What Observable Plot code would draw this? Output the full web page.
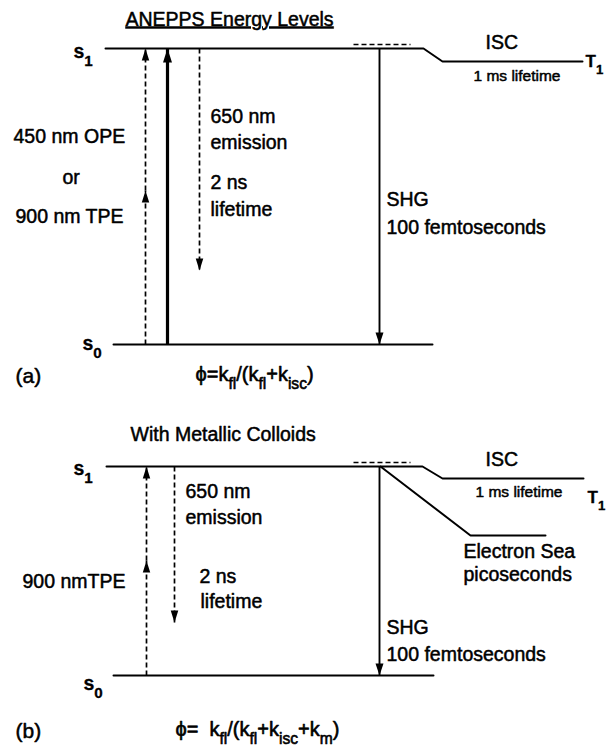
<!DOCTYPE html>
<html><head><meta charset="utf-8">
<script src="https://cdn.jsdelivr.net/npm/d3@7"></script>
<script src="https://cdn.jsdelivr.net/npm/@observablehq/plot@0.6"></script>
<style>
html,body{margin:0;padding:0;background:#fff;}
svg text{font-family:"Liberation Sans",Arial,Helvetica,sans-serif;white-space:pre;}
</style></head><body><div id="chart"></div>
<script>
// ---- Diagram data (diagram units; panel (a) top, panel (b) bottom) ----
// Energy-level polylines: [levelId, x, y]
const levelPoints = [
  ["a-S1",105,48],["a-S1",423,48],["a-S1",442,61],["a-S1",582,61],
  ["a-S0",113,344],["a-S0",432,344],
  ["b-S1",106,466],["b-S1",422,466],["b-S1",442,478],["b-S1",583,478],
  ["b-S0",113,675],["b-S0",433,675],
  ["b-ES",380,466],["b-ES",470,535],["b-ES",545,535]
];
// Virtual state (dashed) above S1: [panel, xStart, xEnd, y]
const virtualStates = [
  ["a",353,410,44],
  ["b",353,410,462]
];
// Transitions: [panel, name, x, yFrom, yTo, kind]
const transitions = [
  ["a","TPE photon 1",145,344,190,"dashed"],
  ["a","TPE photon 2",145,190,48,"dashed"],
  ["a","OPE",167,344,48,"thick"],
  ["a","Fluorescence",199,48,270,"dashed"],
  ["a","SHG",379,48,344,"solid"],
  ["b","TPE photon 1",146,675,560,"dashed"],
  ["b","TPE photon 2",146,560,466,"dashed"],
  ["b","Fluorescence",174,466,622,"dashed"],
  ["b","SHG",379,466,675,"solid"]
];
// Labels: [text, x, baseline, role]
const labels = [
  ["ANEPPS Energy Levels",125,25,"title"],
  ["s_{1}",73,57,"state"],
  ["s_{0}",82,349,"state"],
  ["T_{1}",585,66,"stateT"],
  ["ISC",485,48,"label"],
  ["1 ms lifetime",473,80,"small"],
  ["450 nm OPE",13,142,"label"],
  ["or",62,183,"label"],
  ["900 nm TPE",15,222,"label"],
  ["650 nm",210,122,"label"],
  ["emission",210,148,"label"],
  ["2 ns",210,188,"label"],
  ["lifetime",210,215,"label"],
  ["SHG",386,205,"label"],
  ["100 femtoseconds",386,233,"label"],
  ["(a)",15,382,"panel"],
  ["ϕ=k_{fl}/(k_{fl}+k_{isc})",195,380,"formula"],
  ["With Metallic Colloids",130,440,"label"],
  ["s_{1}",73,474,"state"],
  ["s_{0}",83,689,"state"],
  ["T_{1}",587,502,"stateT"],
  ["ISC",485,465,"label"],
  ["1 ms lifetime",475,496,"small"],
  ["Electron Sea",463,557,"label"],
  ["picoseconds",463,580,"label"],
  ["650 nm",185,497,"label"],
  ["emission",185,523,"label"],
  ["2 ns",199,582,"label"],
  ["lifetime",200,607,"label"],
  ["900 nmTPE",22,587,"label"],
  ["SHG",386,633,"label"],
  ["100 femtoseconds",386,660,"label"],
  ["(b)",15,737,"panel"],
  ["ϕ=  k_{fl}/(k_{fl}+k_{isc}+k_{m})",175,735,"formula"]
];

// ---- Styles ----
const roleStyle = {
  title:  {size:19.5, weight:"normal", halo:0.5},
  label:  {size:19.5, weight:"normal", halo:0.5},
  small:  {size:15.5, weight:"normal", halo:0.5},
  state:  {size:19.5, weight:"bold", halo:0.3},
  stateT: {size:17, weight:"bold", halo:0.3},
  panel:  {size:21, weight:"normal", halo:0.5},
  formula:{size:20, weight:"normal", halo:0.6}
};
const kindStyle = {
  dashed:{strokeWidth:1.7, dash:"5,3", head:[7.5,12]},
  thick: {strokeWidth:3.2, dash:null, head:[9,14]},
  solid: {strokeWidth:1.9, dash:null, head:[8,12]}
};
function headSymbol(w, h, dir) { // dir: 1 pointing down, -1 pointing up; tip at origin
  return {draw(ctx) { ctx.moveTo(0,0); ctx.lineTo(-w/2, -dir*h); ctx.lineTo(w/2, -dir*h); ctx.closePath(); }};
}

const marks = [];
marks.push(Plot.line(levelPoints, {x: d => d[1], y: d => d[2], z: d => d[0], stroke: "black", strokeWidth: 2, strokeLinejoin: "miter"}));
marks.push(Plot.link(virtualStates, {x1: d => d[1], x2: d => d[2], y1: d => d[3], y2: d => d[3], stroke: "black", strokeWidth: 1.6, strokeDasharray: "5,3"}));
for (const kind of Object.keys(kindStyle)) {
  const st = kindStyle[kind];
  const rows = transitions.filter(d => d[5] === kind);
  if (!rows.length) continue;
  marks.push(Plot.link(rows, {x1: d => d[2], x2: d => d[2], y1: d => d[3], y2: d => d[4], stroke: "black", strokeWidth: st.strokeWidth, strokeDasharray: st.dash || undefined}));
  for (const dir of [1, -1]) {
    const hr = rows.filter(d => Math.sign(d[4] - d[3]) === dir);
    if (!hr.length) continue;
    marks.push(Plot.dot(hr, {x: d => d[2], y: d => d[4], r: 1, fill: "black", stroke: "none", symbol: headSymbol(st.head[0], st.head[1], dir)}));
  }
}
for (const role of Object.keys(roleStyle)) {
  const st = roleStyle[role];
  const rows = labels.filter(d => d[3] === role);
  marks.push(Plot.text(rows, {x: d => d[1], y: d => d[2], text: d => d[0], textAnchor: "start", lineAnchor: "middle", fontSize: st.size, fontWeight: st.weight, fill: "black", stroke: "black", strokeWidth: st.halo, paintOrder: "stroke", dy: -0.32 * st.size}));
}

const svg = Plot.plot({
  width: 615, height: 747, margin: 0,
  x: {domain: [0, 615], range: [0, 615], axis: null},
  y: {domain: [0, 747], range: [0, 747], axis: null},
  style: {background: "white", fontFamily: "'Liberation Sans', Arial, sans-serif"},
  marks
});

// Subscript markup: "_{...}" -> lowered, smaller tspan
d3.select(svg).selectAll("text").each(function() {
  const t = this.textContent;
  if (t === "ANEPPS Energy Levels") { this.style.textDecoration = "underline"; return; }
  if (t.indexOf("_{") < 0) return;
  const g = this.closest("g[font-size]");
  const fs = parseFloat(this.getAttribute("font-size") || (g && g.getAttribute("font-size")) || 19);
  const drop = 0.45 * fs, sub = 0.78 * fs;
  const parts = t.split(/(_\{[^}]*\})/).filter(s => s.length);
  const el = d3.select(this);
  el.text(null);
  let lowered = false;
  for (const p of parts) {
    const m = p.match(/^_\{([^}]*)\}$/);
    const ts = el.append("tspan");
    if (m) {
      ts.attr("dy", lowered ? 0 : drop).attr("font-size", sub).text(m[1]);
      lowered = true;
    } else {
      ts.attr("dy", lowered ? -drop : 0).text(p);
      lowered = false;
    }
  }
});
document.getElementById("chart").appendChild(svg);
</script></body></html>
